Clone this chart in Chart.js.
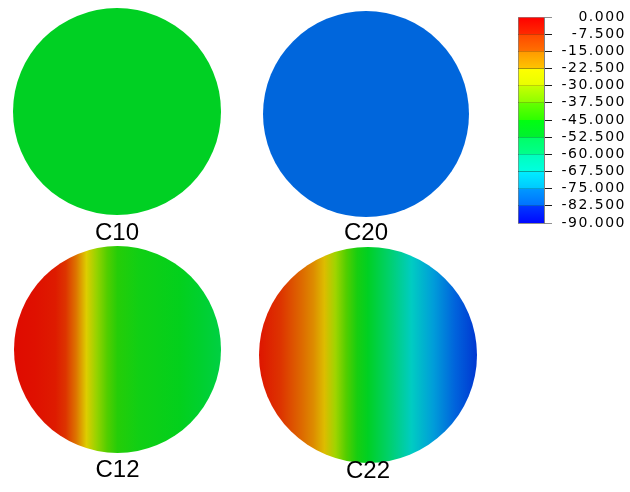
<!DOCTYPE html>
<html>
<head>
<meta charset="utf-8">
<title>C10 C20 C12 C22</title>
<script src="https://cdn.jsdelivr.net/npm/chart.js@4.4.1/dist/chart.umd.min.js"></script>
<style>
  html, body { margin: 0; padding: 0; background: #fff; }
  #page { position: relative; width: 630px; height: 492px; overflow: hidden; }
  .panel { position: absolute; }
</style>
</head>
<body>
<div id="page"></div>
<script>
// positions across each disc (-1 = left edge, 1 = right edge)
const profileX = [-1, -0.8, -0.6, -0.5, -0.4, -0.3, -0.2, -0.1, 0, 0.2, 0.4, 0.6, 0.8, 1];

// field values read across each disc, left to right
const c10Values = [-53, -53, -53, -53, -53, -53, -53, -53, -53, -53, -53, -53, -53, -53];
const c20Values = [-81.5, -81.5, -81.5, -81.5, -81.5, -81.5, -81.5, -81.5, -81.5, -81.5, -81.5, -81.5, -81.5, -81.5];
const c12Values = [-2, -3, -5, -9, -17, -28, -36, -42, -47, -50, -51, -52, -54, -56];
const c22Values = [-4, -9, -16, -20, -26, -35, -42, -49, -53, -60, -67, -74, -82, -88];

const panelNames = ['C10', 'C20', 'C12', 'C22'];
const panelValues = [c10Values, c20Values, c12Values, c22Values];

// colour bar
const legendTicks = [0, -7.5, -15, -22.5, -30, -37.5, -45, -52.5, -60, -67.5, -75, -82.5, -90];
const legendBandColors = [
  ['#ff0000', '#ff2a00'], ['#ff4800', '#ff7000'], ['#ff9900', '#ffc400'],
  ['#ffff00', '#e8ff00'], ['#c8ff00', '#8cff00'], ['#66ff00', '#2eff00'],
  ['#00ff10', '#00f030'], ['#00ff66', '#00ff8c'], ['#00ffbb', '#00ffe0'],
  ['#00eeff', '#00c8ff'], ['#0099ff', '#0070ff'], ['#0038ff', '#0008ff']
];
// shaded colours as they appear on the discs, one per legend tick
const fieldColors = [
  [224, 0, 0], [221, 40, 0], [221, 100, 0], [221, 160, 0], [221, 221, 0],
  [130, 208, 0], [50, 204, 0], [0, 208, 30], [0, 208, 110], [0, 204, 200],
  [0, 150, 220], [0, 95, 220], [0, 40, 205]
];

// layout of each disc on the page (pixels)
const panelBoxes = [
  { left: 13, top: 8, width: 208, disc: 207, pad: 6, line: 1 },
  { left: 263, top: 11, width: 206, disc: 206, pad: 4, line: 1 },
  { left: 14, top: 246, width: 207, disc: 207, pad: 5, line: 1 },
  { left: 259, top: 247, width: 218, disc: 216, pad: 2, line: 0.5 }
];

Chart.defaults.font.family = '"Liberation Sans", Arial, sans-serif';
Chart.defaults.color = '#000';

const page = document.getElementById('page');

function addCanvas(left, top, width, height) {
  const box = document.createElement('div');
  box.className = 'panel';
  box.style.left = left + 'px';
  box.style.top = top + 'px';
  box.style.width = width + 'px';
  box.style.height = height + 'px';
  const canvas = document.createElement('canvas');
  box.appendChild(canvas);
  page.appendChild(box);
  return canvas;
}

// value -> colour, linear between the legend ticks
function fieldColor(v) {
  const step = legendTicks[0] - legendTicks[1];
  let t = (legendTicks[0] - v) / step;
  t = Math.max(0, Math.min(legendTicks.length - 1, t));
  const i = Math.min(Math.floor(t), legendTicks.length - 2);
  const f = t - i;
  const a = fieldColors[i], b = fieldColors[i + 1];
  const c = a.map((ch, k) => Math.round(ch + (b[k] - ch) * f));
  return 'rgb(' + c.join(',') + ')';
}

// paints the disc: a circle filled with the profile along the x scale
// (beforeDraw so the title stays on top of it)
const discPlugin = {
  id: 'disc',
  beforeDraw(chart) {
    const { ctx, scales: { x, y } } = chart;
    const data = chart.data.datasets[0].data;
    const x0 = x.getPixelForValue(-1), x1 = x.getPixelForValue(1);
    const cx = x.getPixelForValue(0), cy = y.getPixelForValue(0);
    const rx = (x1 - x0) / 2;
    const ry = (y.getPixelForValue(-1) - y.getPixelForValue(1)) / 2;
    const grad = ctx.createLinearGradient(x0, 0, x1, 0);
    data.forEach(p => {
      grad.addColorStop((x.getPixelForValue(p.x) - x0) / (x1 - x0), fieldColor(p.v));
    });
    ctx.save();
    ctx.beginPath();
    ctx.ellipse(cx, cy, rx, ry, 0, 0, Math.PI * 2);
    ctx.fillStyle = grad;
    ctx.fill();
    ctx.restore();
  }
};

panelNames.forEach((name, i) => {
  const b = panelBoxes[i];
  const canvas = addCanvas(b.left, b.top, b.width, b.disc + b.pad + 24 * b.line + 10);
  new Chart(canvas, {
    type: 'scatter',
    data: {
      datasets: [{
        label: name,
        data: profileX.map((px, k) => ({ x: px, y: 0, v: panelValues[i][k] })),
        pointRadius: 0,
        showLine: false
      }]
    },
    options: {
      responsive: true,
      maintainAspectRatio: false,
      animation: false,
      devicePixelRatio: 1,
      events: [],
      layout: { padding: 0 },
      plugins: {
        legend: { display: false },
        tooltip: { enabled: false },
        title: {
          display: true,
          text: name,
          position: 'bottom',
          color: '#000',
          font: { size: 24, weight: 'normal', lineHeight: b.line },
          padding: { top: b.pad, bottom: 10 }
        }
      },
      scales: {
        x: { type: 'linear', min: -1, max: 1, display: false },
        y: { type: 'linear', min: -1, max: 1, display: false }
      }
    },
    plugins: [discPlugin]
  });
});

// colour bar with its tick labels
const legendBands = legendTicks.slice(0, -1).map((hi, i) => [legendTicks[i + 1], hi]);

function bandFill(context, i) {
  const chart = context.chart;
  const y = chart.scales.y;
  if (!chart.chartArea || !y) return legendBandColors[i][0];
  const band = legendBands[i];
  const g = chart.ctx.createLinearGradient(0, y.getPixelForValue(band[1]), 0, y.getPixelForValue(band[0]));
  g.addColorStop(0, legendBandColors[i][0]);
  g.addColorStop(1, legendBandColors[i][1]);
  return g;
}

const spacingPlugin = {
  id: 'spacing',
  beforeUpdate(chart) { chart.ctx.letterSpacing = '1.5px'; },
  beforeDraw(chart) { chart.ctx.letterSpacing = '1.5px'; }
};

const legendCanvas = addCanvas(510, 0, 120, 232);
new Chart(legendCanvas, {
  type: 'bar',
  data: {
    labels: [''],
    datasets: legendBands.map((band, i) => ({
      data: [band],
      backgroundColor: (c) => bandFill(c, i),
      borderColor: '#808080',
      borderWidth: { left: 1, right: 0, top: 0, bottom: 0 },
      borderSkipped: false,
      barPercentage: 1,
      categoryPercentage: 1,
      grouped: false
    }))
  },
  options: {
    responsive: true,
    maintainAspectRatio: false,
    animation: false,
    devicePixelRatio: 1,
    events: [],
    layout: { padding: { left: 8, right: 4, top: 17, bottom: 9 }, autoPadding: false },
    plugins: {
      legend: { display: false },
      tooltip: { enabled: false },
      title: { display: false }
    },
    scales: {
      x: { display: false },
      y: {
        type: 'linear',
        position: 'right',
        min: -90,
        max: 0,
        z: 1,
        afterBuildTicks(s) { s.ticks = legendTicks.map(v => ({ value: v })); },
        afterFit(s) {
          s.width = 82;
          s.paddingTop = 0;
          s.paddingBottom = 0;
        },
        border: { display: true, color: '#808080', width: 1 },
        grid: {
          drawOnChartArea: true,
          tickLength: 8,
          lineWidth: 1,
          color: (c) => (c.index === 0 || c.index === legendTicks.length - 1) ? '#909090' : '#1a1a1a'
        },
        ticks: {
          autoSkip: false,
          crossAlign: 'far',
          padding: 13,
          color: '#000',
          font: { family: '"DejaVu Sans", Verdana, sans-serif', size: 14 },
          callback: (v) => Number(v).toFixed(3)
        }
      }
    }
  },
  plugins: [spacingPlugin]
});
</script>
</body>
</html>
